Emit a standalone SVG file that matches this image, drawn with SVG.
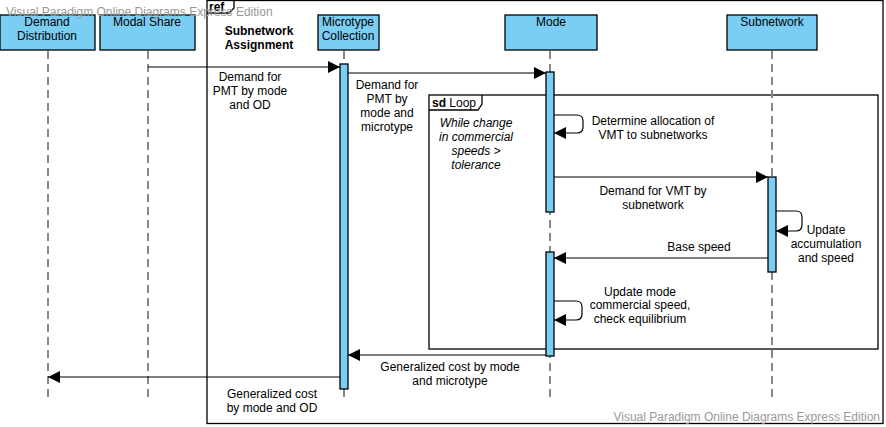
<svg xmlns="http://www.w3.org/2000/svg" width="886" height="427" viewBox="0 0 886 427">
<defs>
<style>
text{font-family:"Liberation Sans",Arial,sans-serif;font-size:12px;fill:#000}
.c{text-anchor:middle}
.b{font-weight:bold}
.i{font-style:italic}
.wm{fill:#999;font-size:12px}
.box{fill:#7ACEF4;stroke:#000;stroke-width:1.3}
.act{fill:#7ACEF4;stroke:#000;stroke-width:1.3}
.life{stroke:#888;stroke-width:2;stroke-dasharray:8,5;fill:none}
.frame{fill:none;stroke:#000;stroke-width:1.3}
.msg{stroke:#000;stroke-width:1.2;fill:none}
</style>
<marker id="ah" markerWidth="13" markerHeight="12" refX="12" refY="6" orient="auto" markerUnits="userSpaceOnUse">
<path d="M0,0 L12,6 L0,12 Z" fill="#000"/>
</marker>
</defs>
<rect width="886" height="427" fill="#fff"/>

<g id="ref-frame">
<rect class="frame" x="207" y="0.5" width="676" height="423"/>
<path class="frame" d="M207,13 L229,13 L234,8 L234,0.5" fill="#fff"/>
<text x="209" y="11" class="b">ref</text>
<text x="259" y="35" class="c b">Subnetwork</text>
<text x="259" y="49" class="c b">Assignment</text>
</g>

<g id="loop-frame">
<rect class="frame" x="429" y="95" width="449" height="254"/>
<path class="frame" d="M429,110 L478,110 L482,104 L482,95"/>
<text x="432" y="107"><tspan class="b">sd</tspan> Loop</text>
<text x="476" y="127" class="c i">While change</text>
<text x="476" y="141" class="c i">in commercial</text>
<text x="476" y="155" class="c i">speeds &gt;</text>
<text x="476" y="169" class="c i">tolerance</text>
</g>

<g id="lifelines">
<line class="life" x1="48" y1="51" x2="48" y2="400"/>
<line class="life" x1="148" y1="51" x2="148" y2="400"/>
<line class="life" x1="344" y1="51" x2="344" y2="400"/>
<line class="life" x1="550" y1="51" x2="550" y2="400"/>
<line class="life" x1="772" y1="51" x2="772" y2="400"/>
</g>

<g id="demand-distribution">
<rect class="box" x="0" y="15" width="95" height="35"/>
<text x="47" y="26" class="c">Demand</text>
<text x="47" y="40" class="c">Distribution</text>
</g>
<g id="modal-share">
<rect class="box" x="100" y="15" width="95" height="35"/>
<text x="147" y="26" class="c">Modal Share</text>
</g>
<g id="microtype-collection">
<rect class="box" x="318" y="15" width="61" height="35"/>
<text x="348" y="26" class="c">Microtype</text>
<text x="348" y="40" class="c">Collection</text>
<rect class="act" x="340" y="64" width="8" height="325"/>
</g>
<g id="mode">
<rect class="box" x="505" y="15" width="92" height="35"/>
<text x="551" y="26" class="c">Mode</text>
<rect class="act" x="546" y="72" width="8" height="140"/>
<rect class="act" x="546" y="252" width="8" height="104"/>
</g>
<g id="subnetwork">
<rect class="box" x="727" y="15" width="90" height="35"/>
<text x="772" y="26" class="c">Subnetwork</text>
<rect class="act" x="768" y="177" width="8" height="95"/>
</g>

<g id="connectors">
<line class="msg" x1="148" y1="67" x2="340" y2="67" marker-end="url(#ah)"/>
<line class="msg" x1="348" y1="73" x2="546" y2="73" marker-end="url(#ah)"/>
<path class="msg" d="M554,115 L577,115 Q583,115 583,121 L583,127 Q583,133 577,133 L554,133" marker-end="url(#ah)"/>
<line class="msg" x1="554" y1="177" x2="768" y2="177" marker-end="url(#ah)"/>
<path class="msg" d="M776,211 L796,211 Q802,211 802,217 L802,225 Q802,231 796,231 L776,231" marker-end="url(#ah)"/>
<line class="msg" x1="768" y1="258" x2="554" y2="258" marker-end="url(#ah)"/>
<path class="msg" d="M554,301 L576,301 Q582,301 582,307 L582,314 Q582,320 576,320 L554,320" marker-end="url(#ah)"/>
<line class="msg" x1="546" y1="355" x2="348" y2="355" marker-end="url(#ah)"/>
<line class="msg" x1="340" y1="377" x2="48" y2="377" marker-end="url(#ah)"/>
</g>

<g id="labels">
<text x="250" y="81" class="c">Demand for</text>
<text x="250" y="95" class="c">PMT by mode</text>
<text x="250" y="109" class="c">and OD</text>
<text x="387" y="89" class="c">Demand for</text>
<text x="387" y="103" class="c">PMT by</text>
<text x="387" y="117" class="c">mode and</text>
<text x="387" y="131" class="c">microtype</text>
<text x="653" y="125" class="c">Determine allocation of</text>
<text x="653" y="139" class="c">VMT to subnetworks</text>
<text x="653" y="195" class="c">Demand for VMT by</text>
<text x="653" y="209" class="c">subnetwork</text>
<text x="826" y="234" class="c">Update</text>
<text x="826" y="248" class="c">accumulation</text>
<text x="826" y="262" class="c">and speed</text>
<text x="699" y="251" class="c">Base speed</text>
<text x="640" y="296" class="c">Update mode</text>
<text x="640" y="309" class="c">commercial speed,</text>
<text x="640" y="323" class="c">check equilibrium</text>
<text x="450" y="371" class="c">Generalized cost by mode</text>
<text x="450" y="385" class="c">and microtype</text>
<text x="272" y="398" class="c">Generalized cost</text>
<text x="272" y="412" class="c">by mode and OD</text>
</g>

<g id="watermarks">
<text x="6" y="16" class="wm">Visual Paradigm Online Diagrams Express Edition</text>
<text x="880" y="421" class="wm" text-anchor="end">Visual Paradigm Online Diagrams Express Edition</text>
</g>
</svg>
